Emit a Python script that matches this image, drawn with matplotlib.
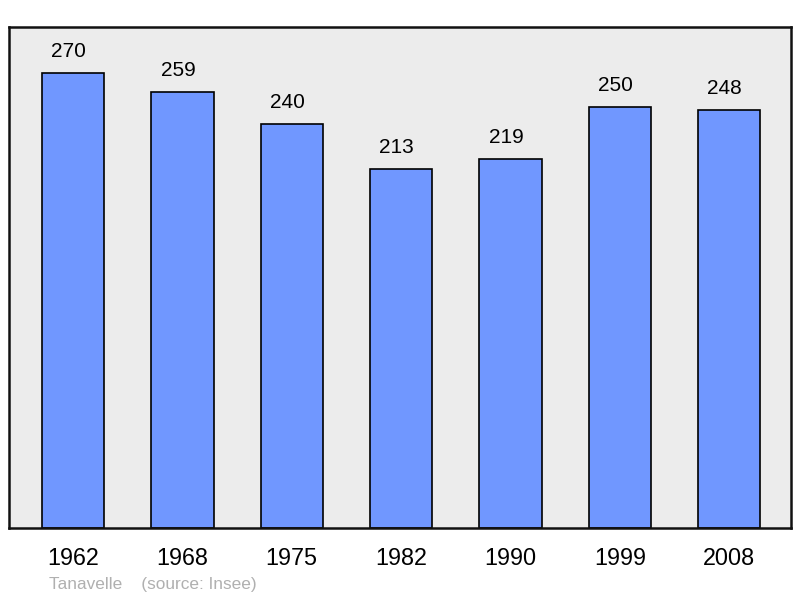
import numpy as np
import matplotlib.pyplot as plt

# population data
years = ['1962', '1968', '1975', '1982', '1990', '1999', '2008']
population = [270, 259, 240, 213, 219, 250, 248]

plt.rcParams['font.family'] = ['Liberation Sans', 'DejaVu Sans']

fig = plt.figure(figsize=(8, 5.98), dpi=100, facecolor='white')
ax = fig.add_axes([9 / 800, 70 / 598, 782 / 800, 501 / 598], facecolor='#ececec')

x = np.arange(len(years))
ax.bar(x, population, width=0.57, color='#7097ff', edgecolor='black', linewidth=1.2, zorder=2)

# value labels above bars (slightly left of centre, like the original)
for xi, v in zip(x, population):
    ax.text(xi - 0.04, v + 7, str(v), ha='center', va='bottom', fontsize=15, color='black')

ax.set_xlim(-0.585, 6.565)
ax.set_ylim(0, 297.3)
ax.set_xticks(x)
ax.set_xticklabels(years, fontsize=16.8)
ax.tick_params(axis='x', length=0, pad=14)
ax.set_yticks([])

for spine in ax.spines.values():
    spine.set_linewidth(1.8)
    spine.set_color('#111111')

fig.text(49 / 800, 1 - 584 / 598, 'Tanavelle    (source: Insee)', fontsize=12.4,
         color='#b0b0b0', ha='left', va='center')

fig.savefig('out.png', dpi=100)
